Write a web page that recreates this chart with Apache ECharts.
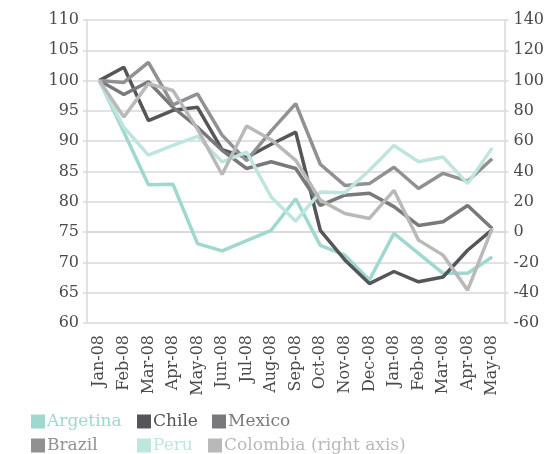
<!DOCTYPE html>
<html>
<head>
<meta charset="utf-8">
<script src="https://cdn.jsdelivr.net/npm/echarts@6/dist/echarts.min.js"></script>
<style>
  html, body { margin: 0; padding: 0; background: #fff; }
  #main { width: 547px; height: 454px; }
</style>
</head>
<body>
<div id="main"></div>
<script>
// categories as printed on the source chart (second year is labelled -08 too)
const months = ['Jan-08', 'Feb-08', 'Mar-08', 'Apr-08', 'May-08', 'Jun-08', 'Jul-08', 'Aug-08', 'Sep-08',
  'Oct-08', 'Nov-08', 'Dec-08', 'Jan-08', 'Feb-08', 'Mar-08', 'Apr-08', 'May-08'];

const argentina = [100, 91.5, 82.8, 82.9, 73.1, 71.9, 73.6, 75.3, 80.5, 72.8, 71.2, 67.1, 74.8, 71.5, 68.2, 68.2, 70.9];
const chile = [100, 102.2, 93.4, 95.1, 95.6, 88.6, 87.3, 89.5, 91.5, 75.3, 70.4, 66.5, 68.5, 66.8, 67.6, 72.0, 75.4];
const mexico = [100, 97.7, 99.8, 95.6, 92.3, 88.5, 85.5, 86.6, 85.5, 79.4, 81.1, 81.4, 79.2, 76.1, 76.7, 79.4, 75.6];
const brazil = [100, 99.7, 103.0, 96.0, 97.8, 91.0, 86.8, 91.7, 96.2, 86.2, 82.7, 83.0, 85.7, 82.2, 84.7, 83.4, 87.1];
const peru = [100, 92.3, 87.7, 89.3, 90.8, 86.6, 88.2, 80.8, 76.8, 81.6, 81.5, 85.2, 89.3, 86.6, 87.4, 83.0, 88.9];
// right axis
const colombia = [100, 76, 98, 93.5, 68, 38, 70, 61, 47.4, 21.1, 12.3, 9.0, 27.6, -5.3, -15.2, -38.3, 2.4];

const leftTicks = { min: 60, max: 110, interval: 5 };
const rightTicks = { min: -60, max: 140, interval: 20 };

const names = ['Argetina', 'Chile', 'Mexico', 'Brazil', 'Peru', 'Colombia (right axis)'];
const colors = ['#9fd8cf', '#55565a', '#79797b', '#919194', '#bfe5df', '#b9b9ba'];
const values = [argentina, chile, mexico, brazil, peru, colombia];

const myChart = echarts.init(document.getElementById('main'));
const font = '"DejaVu Serif", serif';
const gridColor = '#d9d9d9';

// legend laid out as a 3 x 2 grid
const legendPos = [[31, 413], [137, 413], [212, 413], [31, 437], [137, 437], [208, 437]];

const option = {
  animation: false,
  color: colors,
  grid: { left: 87, right: 41, top: 20, bottom: 131 },
  legend: names.map((n, i) => ({
    data: [n],
    left: legendPos[i][0],
    top: legendPos[i][1],
    icon: 'rect',
    itemWidth: 14,
    itemHeight: 14,
    padding: 0,
    textStyle: { color: colors[i], fontFamily: font, fontSize: 17, padding: [0, 0, 0, -3] }
  })),
  xAxis: {
    type: 'category',
    data: months,
    boundaryGap: true,
    axisLine: { show: true, lineStyle: { color: gridColor, width: 1.5 } },
    axisTick: { show: false },
    axisLabel: {
      rotate: 90,
      interval: 0,
      margin: 12,
      color: '#4a4a4a',
      fontFamily: font,
      fontSize: 16
    }
  },
  yAxis: [
    {
      type: 'value',
      min: leftTicks.min,
      max: leftTicks.max,
      interval: leftTicks.interval,
      axisLine: { show: true, lineStyle: { color: gridColor, width: 1.5 } },
      axisTick: { show: true, length: 4, lineStyle: { color: gridColor, width: 1.5 } },
      splitLine: { lineStyle: { color: gridColor, width: 1.5 } },
      axisLabel: { color: '#4a4a4a', fontFamily: font, fontSize: 16, margin: 8 }
    },
    {
      type: 'value',
      position: 'right',
      min: rightTicks.min,
      max: rightTicks.max,
      interval: rightTicks.interval,
      axisLine: { show: true, lineStyle: { color: gridColor, width: 1.5 } },
      axisTick: { show: true, length: 4, lineStyle: { color: gridColor, width: 1.5 } },
      splitLine: { show: false },
      axisLabel: { color: '#4a4a4a', fontFamily: font, fontSize: 16, margin: 9 }
    }
  ],
  series: names.map((n, i) => ({
    name: n,
    type: 'line',
    yAxisIndex: i === 5 ? 1 : 0,
    data: values[i],
    symbol: 'none',
    lineStyle: { width: 3.5, color: colors[i] },
    itemStyle: { color: colors[i] }
  }))
};

myChart.setOption(option, true);
</script>
</body>
</html>
